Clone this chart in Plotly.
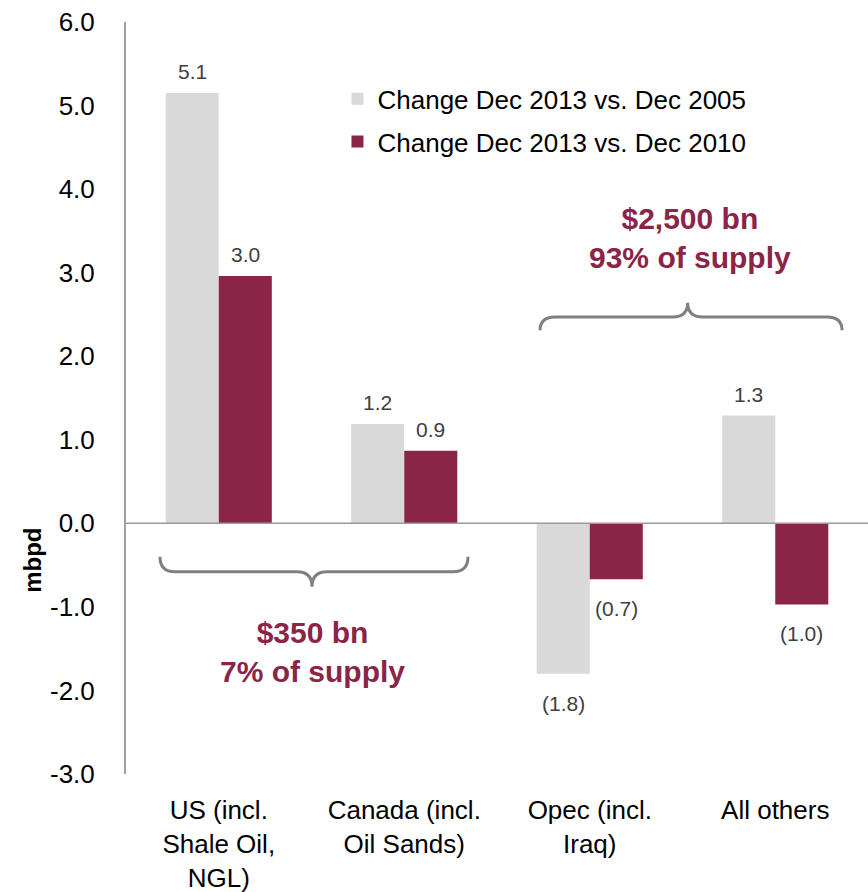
import plotly.graph_objects as go

categories = ["US (incl.<br>Shale Oil,<br>NGL)", "Canada (incl.<br>Oil Sands)", "Opec (incl.<br>Iraq)", "All others"]
series_names = ["Change Dec 2013 vs. Dec 2005", "Change Dec 2013 vs. Dec 2010"]
vals_2005 = [5.15, 1.19, -1.80, 1.29]
vals_2010 = [2.96, 0.87, -0.67, -0.97]
labels_2005 = ["5.1", "1.2", "(1.8)", "1.3"]
labels_2010 = ["3.0", "0.9", "(0.7)", "(1.0)"]
y_ticks = [-3, -2, -1, 0, 1, 2, 3, 4, 5, 6]
y_ticktext = ["-3.0", "-2.0", "-1.0", "0.0", "1.0", "2.0", "3.0", "4.0", "5.0", "6.0"]

GRAY = "#D9D9D9"
MAROON = "#8B2548"
FONT = "Liberation Sans"

fig = go.Figure()
fig.add_trace(go.Bar(x=categories, y=vals_2005, name=series_names[0], marker_color=GRAY,
                     marker_line_width=0, legendgroup="a"))
fig.add_trace(go.Bar(x=categories, y=vals_2010, name=series_names[1], marker_color=MAROON,
                     marker_line_width=0, legendgroup="b"))

# value labels
anns = []
for vals, labs, shift in [(vals_2005, labels_2005, -26.5), (vals_2010, labels_2010, 26.5)]:
    for c, v, t in zip(categories, vals, labs):
        anns.append(dict(x=c, y=v, xref="x", yref="y", text=t, showarrow=False,
                         xshift=shift, yshift=(8 if v >= 0 else -16),
                         xanchor="center",
                         yanchor=("bottom" if v >= 0 else "top"),
                         font=dict(family=FONT, size=21, color="#404040")))

anns.append(dict(x=0.2507, y=-1.54, xref="paper", yref="y", showarrow=False,
                 xanchor="center", yanchor="middle",
                 text="<b>$350 bn<br>7% of supply</b>",
                 font=dict(family=FONT, size=30, color=MAROON)))
anns.append(dict(x=0.760, y=3.41, xref="paper", yref="y", showarrow=False,
                 xanchor="center", yanchor="middle",
                 text="<b>$2,500 bn<br>93% of supply</b>",
                 font=dict(family=FONT, size=30, color=MAROON)))
anns.append(dict(x=-0.127, y=-0.44, xref="paper", yref="y", showarrow=False,
                 xanchor="center", yanchor="middle",
                 text="<b>mbpd</b>", textangle=-90,
                 font=dict(family=FONT, size=24, color="#000000")))


def brace(x0, xc, x1, y_end, y_line, y_tip, r=0.0202):
    return (f"M {x0},{y_end} Q {x0},{y_line} {x0 + r},{y_line} "
            f"L {xc - r},{y_line} Q {xc},{y_line} {xc},{y_tip} "
            f"Q {xc},{y_line} {xc + r},{y_line} "
            f"L {x1 - r},{y_line} Q {x1},{y_line} {x1},{y_end}")


shapes = [
    dict(type="path", xref="paper", yref="y",
         path=brace(0.0458, 0.2507, 0.4609, -0.40, -0.58, -0.76),
         line=dict(color="#808080", width=3)),
    dict(type="path", xref="paper", yref="y",
         path=brace(0.558, 0.757, 0.965, 2.31, 2.47, 2.64),
         line=dict(color="#808080", width=3)),
    dict(type="line", xref="paper", yref="y", x0=0, x1=1, y0=0, y1=0,
         line=dict(color="#9A9A9A", width=1.5), layer="above"),
]

fig.update_layout(
    width=868, height=892,
    margin=dict(l=126, r=0, t=22, b=118, autoexpand=False),
    paper_bgcolor="white", plot_bgcolor="white",
    barmode="group", bargap=0.428, bargroupgap=0,
    font=dict(family=FONT, color="#000000"),
    showlegend=True,
    legend=dict(x=0.285, y=0.929, xanchor="left", yanchor="top",
                font=dict(family=FONT, size=26, color="#000000"),
                traceorder="grouped", tracegroupgap=6, bgcolor="rgba(0,0,0,0)"),
    annotations=anns,
    shapes=shapes,
)
fig.update_xaxes(showgrid=False, zeroline=False, showline=False, ticks="",
                 tickfont=dict(family=FONT, size=26, color="#000000"),
                 ticklabelstandoff=18, automargin=False)
fig.update_yaxes(range=[-3, 6], tickvals=y_ticks, ticktext=y_ticktext,
                 showgrid=False, zeroline=False, showline=True,
                 linecolor="#A0A0A0", linewidth=2, ticks="",
                 tickfont=dict(family=FONT, size=26, color="#000000"),
                 ticklabelstandoff=24, automargin=False)

fig.write_html("out.html", config={"displayModeBar": False},
               post_script="document.body.style.margin='0';")
